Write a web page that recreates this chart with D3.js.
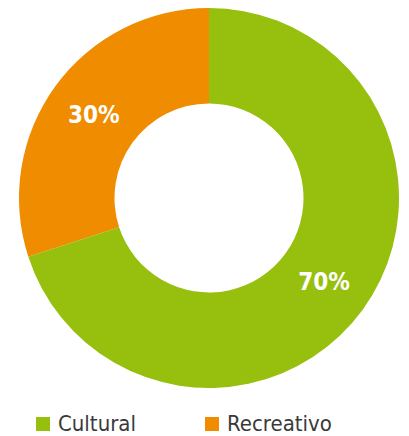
<!DOCTYPE html>
<html>
<head>
<meta charset="utf-8">
<script src="https://cdn.jsdelivr.net/npm/d3@7"></script>
<style>
  body { margin: 0; background: #fff; }
  svg { display: block; }
</style>
</head>
<body>
<div id="chart"></div>
<script>
var categories = ["Recreativo", "Cultural"];
var values = [30, 70];
var colors = ["#f08c00", "#97bf0d"];
var legendOrder = ["Cultural", "Recreativo"];

var width = 409, height = 436;
var cx = 209, cy = 198, outerR = 190, innerR = 94.5;

var svg = d3.select("#chart")
  .append("svg")
  .attr("width", width)
  .attr("height", height);

var color = d3.scaleOrdinal().domain(categories).range(colors);

// orange slice starts at 252deg so it ends at 12 o'clock
var pie = d3.pie()
  .sort(null)
  .value(function(d) { return d.value; })
  .startAngle(-0.3 * 2 * Math.PI)
  .endAngle(0.7 * 2 * Math.PI);

var arc = d3.arc().innerRadius(innerR).outerRadius(outerR);
var labelArc = d3.arc().innerRadius((innerR + outerR) / 2).outerRadius((innerR + outerR) / 2);

var data = categories.map(function(c, i) { return {name: c, value: values[i]}; });
var total = d3.sum(values);

var g = svg.append("g").attr("transform", "translate(" + cx + "," + cy + ")");

g.selectAll("path").data(pie(data))
  .enter().append("path")
  .attr("d", arc)
  .style("fill", function(d) { return color(d.data.name); });

g.selectAll("text").data(pie(data))
  .enter().append("text")
  .attr("transform", function(d) { return "translate(" + labelArc.centroid(d) + ")"; })
  .attr("text-anchor", "middle")
  .attr("dy", "0.36em")
  .style("font-family", "'DejaVu Sans Condensed', sans-serif")
  .style("font-weight", "bold")
  .style("font-size", "24px")
  .style("fill", "#fff")
  .text(function(d) { return Math.round(d.data.value / total * 100) + "%"; });

// legend
var legendX = d3.scalePoint().domain(legendOrder).range([36, 205]);
var lg = svg.append("g").selectAll("g").data(legendOrder)
  .enter().append("g")
  .attr("transform", function(d) { return "translate(" + legendX(d) + ",417)"; });

lg.append("rect")
  .attr("width", 14).attr("height", 14)
  .style("fill", function(d) { return color(d); });

lg.append("text")
  .attr("x", 22).attr("y", 14)
  .style("font-family", "'DejaVu Sans Condensed', sans-serif")
  .style("font-size", "22px")
  .style("fill", "#3a3a3a")
  .text(function(d) { return d; });
</script>
</body>
</html>
